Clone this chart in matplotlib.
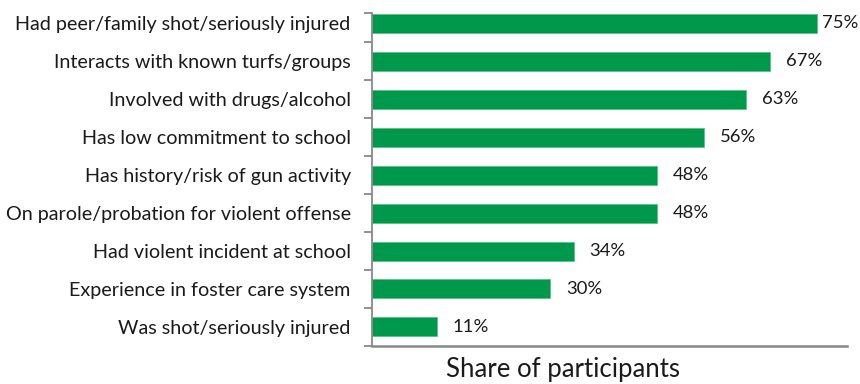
import numpy as np
from matplotlib import pyplot as plt

categories = ["Had peer/family shot/seriously injured",
              "Interacts with known turfs/groups",
              "Involved with drugs/alcohol",
              "Has low commitment to school",
              "Has history/risk of gun activity",
              "On parole/probation for violent offense",
              "Had violent incident at school",
              "Experience in foster care system",
              "Was shot/seriously injured"]
shares = [75, 67, 63, 56, 48, 48, 34, 30, 11]

plt.rcParams['font.family'] = ['Lato', 'DejaVu Sans']

fig = plt.figure(figsize=(8.6, 3.84), dpi=100)
ax = fig.add_axes([0.432, 0.099, 0.553, 0.867])

pos = np.arange(len(categories))
ax.barh(pos, shares, height=0.5, color="#00994C", edgecolor="#5cc08a", linewidth=0.6)

# the longest bar's label sits closer so it fits in the figure
for y, v in zip(pos, shares):
    off = 3.5 if v == max(shares) else 11.5
    ax.annotate(f"{v}%", (v, y), xytext=(off, 0), textcoords="offset points",
                va="center", ha="left", fontsize=13.3, color="#1a1a1a")

ax.set_xlim(0, 80)
top = -0.263
ax.set_ylim(len(categories) - 0.5, top)

# boundary ticks on the category axis, labels at centres
ax.set_yticks([top] + list(pos + 0.5))
ax.set_yticklabels([])
ax.tick_params(axis="y", which="major", length=6, width=1.3, color="#888888")
ax.set_yticks(pos, minor=True)
ax.set_yticklabels(categories, minor=True, fontsize=14.2, color="#1a1a1a")
ax.tick_params(axis="y", which="minor", length=0, pad=15)

ax.set_xticks([])
for s in ["top", "right"]:
    ax.spines[s].set_visible(False)
ax.spines["left"].set_color("#888888")
ax.spines["bottom"].set_color("#888888")
ax.spines["left"].set_linewidth(1.3)
ax.spines["bottom"].set_linewidth(1.8)

ax.set_xlabel("Share of participants", fontsize=18.5, color="#1a1a1a")
ax.xaxis.set_label_coords(0.403, -0.072)
ax.xaxis.label.set_va("center")

fig.savefig("out.png", dpi=100)
